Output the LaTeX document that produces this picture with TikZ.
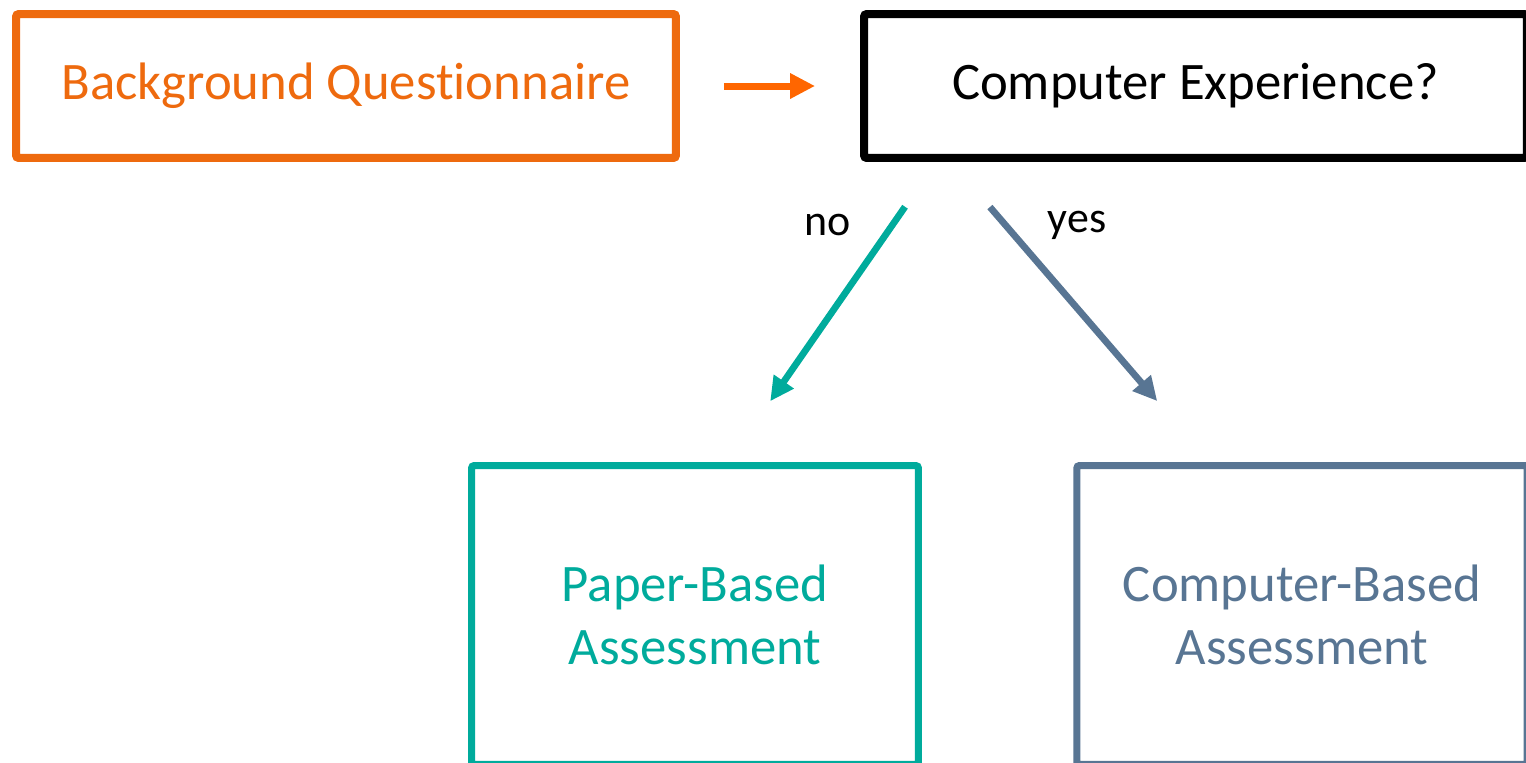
\documentclass[tikz,border=0pt]{standalone}
\usepackage{fontspec}
\setmainfont{Carlito}[Ligatures=NoCommon]
\usepackage{tikz}
\usetikzlibrary{arrows.meta,calc}
\definecolor{bqOrange}{HTML}{EE6A0E}
\definecolor{arrowOrange}{HTML}{FF6600}
\definecolor{pbaTeal}{HTML}{00AB9C}
\definecolor{cbaSlate}{HTML}{587593}
\tikzset{
  stage box/.style={rectangle, draw, line width=1.6mm, rounded corners=1.5pt,
    align=center, font=\fontsize{30}{35.7}\selectfont, inner sep=0pt},
  top box/.style={stage box, minimum width=13.2cm, minimum height=2.88cm},
  mode box/.style={stage box, line width=1.4mm, minimum height=5.98cm},
  flow/.style={-{Triangle[length=5mm, width=4.8mm]}, line width=1.4mm},
  branch/.style={-{Triangle[length=4.8mm, width=4.6mm]}, line width=1.35mm},
  branch label/.style={font=\fontsize{25}{30}\selectfont}
}
\begin{document}
\begin{tikzpicture}[x=0.02cm, y=-0.02cm]
  \path[use as bounding box, clip] (0,0) rectangle (1526,762);
  % boxes
  \node[top box, draw=bqOrange, text=bqOrange] (bq) at (346,86)
    {Background Questionnaire};
  \node[top box, minimum width=13.26cm] (ce) at (1195.5,86)
    {Computer Experience?};
  \node[mode box, draw=pbaTeal, text=pbaTeal, minimum width=8.94cm] (pba)
    at (695,615) {Paper-Based\\Assessment};
  \node[mode box, draw=cbaSlate, text=cbaSlate, minimum width=9.01cm] (cba)
    at (1302,615) {Computer-Based\\Assessment};
  % connectors
  \draw[flow, draw=arrowOrange, shorten <=8.8mm, shorten >=9mm] (bq.east) -- (ce.west);
  \draw[branch, draw=pbaTeal, shorten <=10.9mm, shorten >=14.8mm]
    ($(ce.south west)+(76,0)$) -- ($(pba.north west)+(260,0)$);
  \draw[branch, draw=cbaSlate, shorten <=11.9mm, shorten >=16.1mm]
    ($(ce.south west)+(91,0)$) -- ($(cba.north west)+(136.5,0)$);
  \node[branch label] (no) at (828,225) {no};
  \node[branch label] (yes) at (1077,225) {yes};
\end{tikzpicture}
\end{document}
